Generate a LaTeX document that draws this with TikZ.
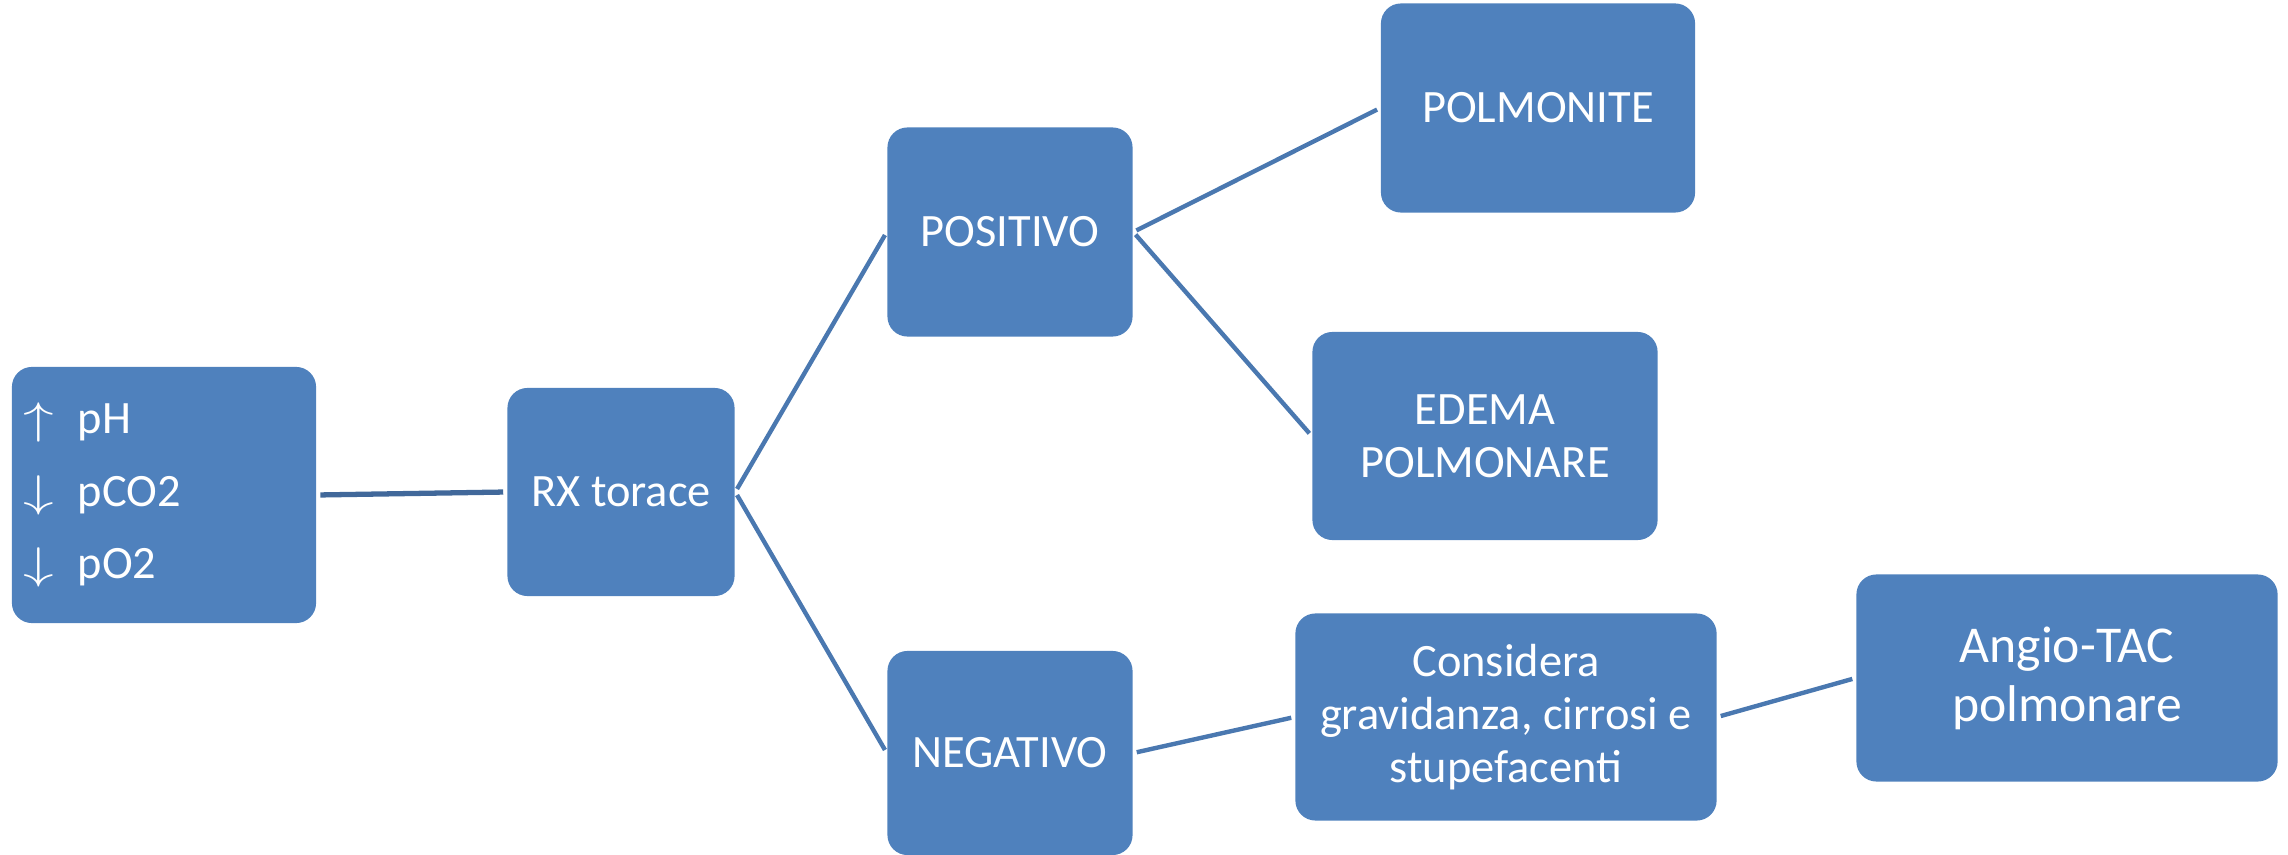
\documentclass[tikz,border=0pt]{standalone}
\usepackage{fontspec}
\usepackage{graphicx}
\setmainfont{Carlito}
\definecolor{boxblue}{HTML}{4F81BD}
\definecolor{linkblue}{HTML}{4A78B0}
\definecolor{darkblue}{HTML}{41689A}
\newcommand{\labup}{\scalebox{1.45}[1.05]{$\uparrow$}}
\newcommand{\labdown}{\scalebox{1.45}[1.05]{$\downarrow$}}

\begin{document}
\begin{tikzpicture}[x=0.01cm, y=-0.01cm,
  box/.style={rectangle, rounded corners=0.2cm, fill=boxblue, text=white,
    align=center, inner sep=0pt, font=\fontsize{13.2}{15}\selectfont},
  link/.style={draw=linkblue, line width=1.25pt, shorten <=1pt, shorten >=1pt}]

\useasboundingbox (0,0) rectangle (2288,855);

\node [box, minimum width=3.04cm, minimum height=2.56cm, text width=2.8cm, align=left,
  font=\fontsize{13.2}{20.5}\selectfont] (lab) at (164,495)
  {\labup\ \,pH\\ \labdown\ \,pCO2\\ \labdown\ \,pO2};
\node [box, minimum width=2.27cm, minimum height=2.08cm] (rx)    at (621,492)  {RX torace};
\node [box, minimum width=2.45cm, minimum height=2.09cm] (pos)   at (1010,232) {POSITIVO};
\node [box, minimum width=2.45cm, minimum height=2.04cm] (neg)   at (1010,753) {NEGATIVO};
\node [box, minimum width=3.14cm, minimum height=2.09cm] (polm)  at (1538,108) {POLMONITE};
\node [box, minimum width=3.45cm, minimum height=2.08cm] (edema) at (1485,436) {EDEMA\\POLMONARE};
\node [box, minimum width=4.21cm, minimum height=2.07cm] (cons)  at (1506,717)
  {Considera\\gravidanza, cirrosi e\\stupefacenti};
\node [box, minimum width=4.21cm, minimum height=2.07cm,
  font=\fontsize{14.7}{16.8}\selectfont] (angio) at (2067,678) {Angio-TAC\\polmonare};

\draw [link, draw=darkblue, line width=1.5pt] (lab.east) -- (rx.west);
\draw [link] (rx.east) -- (pos.west);
\draw [link] (rx.east) -- (neg.west);
\draw [link] (pos.east) -- (polm.west);
\draw [link] (pos.east) -- (edema.west);
\draw [link] (neg.east) -- (cons.west);
\draw [link] (cons.east) -- (angio.west);

\end{tikzpicture}
\end{document}
